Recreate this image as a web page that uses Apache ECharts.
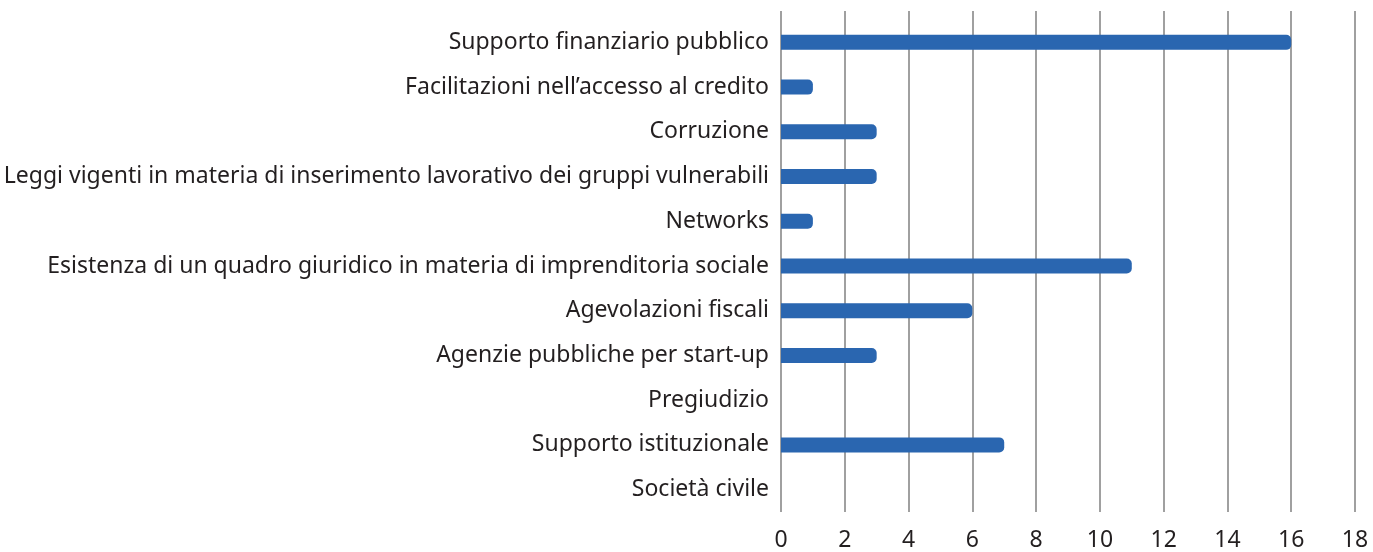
<!DOCTYPE html>
<html><head><meta charset="utf-8">
<script src="https://cdn.jsdelivr.net/npm/echarts@6/dist/echarts.min.js"></script>
<style>html,body{margin:0;padding:0;background:#fff}#c{width:1373px;height:552px}</style>
</head><body><div id="c"></div>
<script>
const categories = [
  "Supporto finanziario pubblico",
  "Facilitazioni nell’accesso al credito",
  "Corruzione",
  "Leggi vigenti in materia di inserimento lavorativo dei gruppi vulnerabili",
  "Networks",
  "Esistenza di un quadro giuridico in materia di imprenditoria sociale",
  "Agevolazioni fiscali",
  "Agenzie pubbliche per start-up",
  "Pregiudizio",
  "Supporto istituzionale",
  "Società civile"
];
const values = [16, 1, 3, 3, 1, 11, 6, 3, 0, 7, 0];
const xTicks = {min: 0, max: 18, interval: 2};

const chart = echarts.init(document.getElementById('c'), null, {renderer: 'canvas'});
chart.setOption({
  animation: false,
  grid: [
    {left: 781, right: 18, top: 11, bottom: 36, containLabel: false},
    {left: 781, right: 18, top: 20, bottom: 40, containLabel: false}
  ],
  xAxis: [{
    gridIndex: 0, type: 'value', min: xTicks.min, max: xTicks.max, interval: xTicks.interval,
    axisLine: {show: false}, axisTick: {show: false},
    splitLine: {show: true, lineStyle: {color: '#808080', width: 1.5}},
    axisLabel: {color: '#231f20', fontSize: 23, fontFamily: 'Noto Sans', margin: 17}
  }, {
    gridIndex: 1, type: 'value', min: xTicks.min, max: xTicks.max, interval: xTicks.interval,
    axisLine: {show: false}, axisTick: {show: false}, splitLine: {show: false},
    axisLabel: {show: false}
  }],
  yAxis: [{
    gridIndex: 0, type: 'category', data: categories, show: false
  }, {
    gridIndex: 1, type: 'category', data: categories, inverse: true,
    axisLine: {show: false}, axisTick: {show: false},
    axisLabel: {color: '#231f20', fontSize: 23, fontFamily: 'Noto Sans', margin: 12}
  }],
  series: [{
    type: 'bar', xAxisIndex: 1, yAxisIndex: 1, data: values, barWidth: 15,
    itemStyle: {color: '#2a66b0', borderRadius: [0, 5, 5, 0]}
  }]
});
</script></body></html>
